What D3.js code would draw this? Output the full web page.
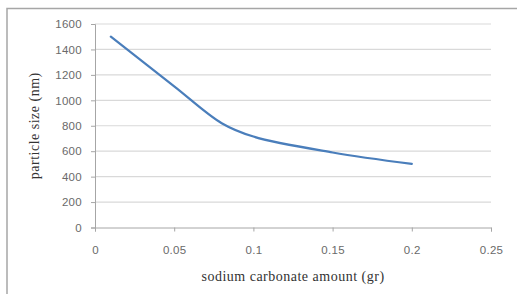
<!DOCTYPE html>
<html>
<head>
<meta charset="utf-8">
<script src="https://cdn.jsdelivr.net/npm/d3@7"></script>
<style>
	body { margin: 0; background: #fff; }
	svg { display: block; }
	.tick text { font-family: "Liberation Sans", Arial, sans-serif; font-size: 11.5px; letter-spacing: 0.3px; fill: #6a6a6a; }
	.title { font-family: "Liberation Serif", "Times New Roman", serif; font-size: 14px; letter-spacing: 0.5px; fill: #333; }
</style>
</head>
<body>
<div id="chart"></div>
<script>
// Chart data
const amounts = [0.01, 0.05, 0.08, 0.1, 0.15, 0.2];
const sizes = [1500, 1110, 820, 715, 590, 500];
const xTicks = [0, 0.05, 0.1, 0.15, 0.2, 0.25];
const yTicks = [0, 200, 400, 600, 800, 1000, 1200, 1400, 1600];

const width = 517, height = 294;
const plot = { left: 95, right: 491, top: 24, bottom: 227.5 };

const svg = d3.select('#chart').append('svg')
	.attr('width', width)
	.attr('height', height);

// Outer frame (only top and left edges fall inside the picture)
svg.append('rect')
	.attr('x', 7).attr('y', 8.5)
	.attr('width', 600).attr('height', 400)
	.style('fill', 'none')
	.style('stroke', '#a6a6a6')
	.style('stroke-width', 1.5);

const x = d3.scaleLinear().domain([0, 0.25]).range([plot.left, plot.right]);
const y = d3.scaleLinear().domain([0, 1600]).range([plot.bottom, plot.top]);

// Gridlines
svg.append('g')
	.selectAll('line')
	.data(yTicks.filter(d => d > 0))
	.join('line')
	.attr('x1', plot.left).attr('x2', plot.right)
	.attr('y1', d => y(d)).attr('y2', d => y(d))
	.style('stroke', '#d9d9d9')
	.style('stroke-width', 1.2);

// Axes
const xAxis = svg.append('g')
	.attr('transform', 'translate(0,' + plot.bottom + ')')
	.call(d3.axisBottom(x).tickValues(xTicks).tickFormat(d => String(d)).tickSize(4).tickPadding(14));

const yAxis = svg.append('g')
	.attr('transform', 'translate(' + plot.left + ',0)')
	.call(d3.axisLeft(y).tickValues(yTicks).tickFormat(d => String(d)).tickSize(4).tickPadding(9));

[xAxis, yAxis].forEach(a => {
	a.select('.domain').style('stroke', '#a6a6a6');
	a.selectAll('.tick line').style('stroke', '#a6a6a6');
});

// Data line
const line = d3.line()
	.x((d, i) => x(amounts[i]))
	.y(d => y(d))
	.curve(d3.curveCatmullRom.alpha(0.5));

svg.append('path')
	.datum(sizes)
	.attr('d', line)
	.style('fill', 'none')
	.style('stroke', '#4a7ebb')
	.style('stroke-width', 2.2)
	.style('stroke-linecap', 'round');

// Axis titles
svg.append('text')
	.attr('class', 'title')
	.attr('x', (plot.left + plot.right) / 2)
	.attr('y', 281)
	.attr('text-anchor', 'middle')
	.text('sodium carbonate amount (gr)');

svg.append('text')
	.attr('class', 'title')
	.attr('transform', 'translate(39,' + (plot.top + plot.bottom) / 2 + ') rotate(-90)')
	.attr('text-anchor', 'middle')
	.text('particle size (nm)');
</script>
</body>
</html>
